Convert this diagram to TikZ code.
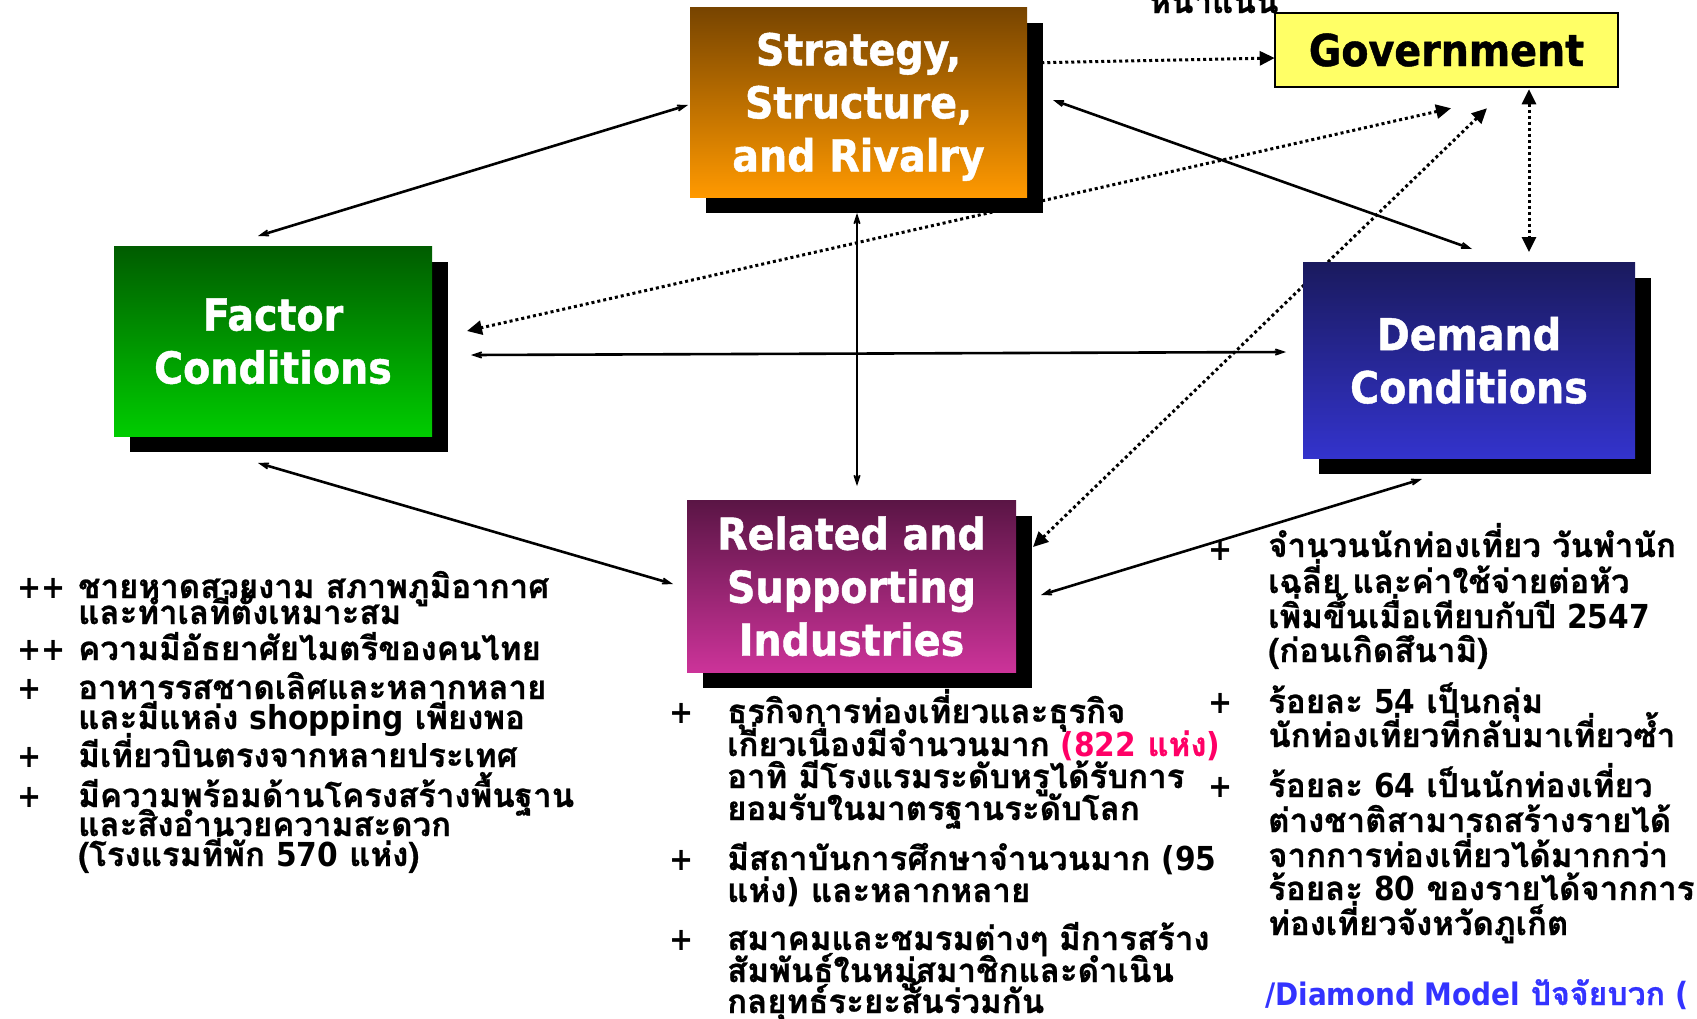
\documentclass[tikz,border=0pt]{standalone}
\usepackage{fontspec}
\usetikzlibrary{arrows.meta,shadows,calc,backgrounds}
\newfontfamily\thai[Script=Thai,BoldFeatures={FakeBold=0.8}]{Loma}
\newfontfamily\lat{DejaVu Sans Condensed}
\newfontfamily\ttl[BoldFeatures={FakeBold=1}]{DejaVu Sans Condensed}
\newcommand\lt[1]{{\lat #1}}
\definecolor{sTop}{HTML}{774400}
\definecolor{sBot}{HTML}{FF9900}
\definecolor{fTop}{HTML}{005C00}
\definecolor{fBot}{HTML}{00CC00}
\definecolor{dTop}{HTML}{1A1A5E}
\definecolor{dBot}{HTML}{3333CC}
\definecolor{rTop}{HTML}{5A1545}
\definecolor{rBot}{HTML}{CC3399}
\definecolor{govy}{HTML}{FFFF66}
\definecolor{pinkt}{HTML}{FF0066}
\definecolor{bluet}{HTML}{3333FF}
\begin{document}
\begin{tikzpicture}[x=1pt,y=-1pt,
  box/.style={shade, inner sep=0pt, outer sep=0pt, text=white, align=center, text depth=0pt,
    font=\ttl\bfseries\fontsize{44}{53}\selectfont,
    drop shadow={shadow xshift=16pt,shadow yshift=-16pt,fill=black,opacity=1}},
  solidarrow/.style={line width=2.6pt,
    {Stealth[length=25pt,width=17pt,inset=18pt]}-{Stealth[length=25pt,width=17pt,inset=18pt]}},
  dotarrow/.style={line width=3pt, dash pattern=on 3pt off 3pt,
    {Triangle[length=15pt,width=14pt]}-{Triangle[length=15pt,width=14pt]}},
  tl/.style={anchor=base west, inner sep=0pt, font=\thai\bfseries\fontsize{33}{36}\selectfont},
  pl/.style={anchor=base west, inner sep=0pt, font=\lat\bfseries\fontsize{32}{36}\selectfont},
]
\useasboundingbox (0,0) rectangle (1697,1018);

% boxes
\node[box, top color=sTop, bottom color=sBot, minimum width=337pt, minimum height=190pt] (S) at (858.5,102) {Strategy,\\Structure,\\and Rivalry};
\node[box, top color=fTop, bottom color=fBot, minimum width=318pt, minimum height=190pt] (F) at (273,341) {Factor\\Conditions};
\node[box, top color=dTop, bottom color=dBot, minimum width=332pt, minimum height=196pt] (D) at (1469,360) {Demand\\Conditions};
\node[box, top color=rTop, bottom color=rBot, minimum width=329pt, minimum height=172pt] (R) at (851.5,586) {Related and\\Supporting\\Industries};
\node[draw=black, line width=2.5pt, fill=govy, inner sep=0pt, minimum width=343pt, minimum height=74pt,
  font=\ttl\bfseries\fontsize{44}{53}\selectfont] (G) at (1446.5,50) {Government};

\node[tl] (top) at (1149,13) {หน้าแน่น};

\begin{pgfonlayer}{background}
\fill[white] (0,0) rectangle (1697,1018);
\draw[solidarrow] ($(S.west)+(-2,3)$) -- ($(F.north)+(-15,-10)$);
\draw[solidarrow] ($(F.south)+(-15,27)$) -- ($(R.west)+(-14,-2)$);
\draw[solidarrow] ($(F.east)+(39,14)$) -- ($(D.west)+(-17,-8)$);
\draw[solidarrow] ($(S.south)+(-1.5,16)$) -- ($(R.north)+(5.5,-14)$);
\draw[solidarrow] ($(S.east)+(26,-2)$) -- ($(D.north)+(3,-13)$);
\draw[solidarrow] ($(R.east)+(25,9)$) -- ($(D.south)+(-47,21)$);
\draw[dotarrow] ($(S.east)+(0,-39)$) -- ($(G.west)+(1,8)$);
\draw[dotarrow] ($(G.south)+(4.5,20)$) -- ($(F.east)+(35,-10)$);
\draw[dotarrow] ($(G.south)+(40.5,20)$) -- ($(R.north east)+(17,47)$);
\draw[dotarrow] ($(G.south)+(82.5,1)$) -- ($(D.north)+(60,-10)$);
\end{pgfonlayer}

% left block
\node[pl] (pl1) at (17,598) {++};
\node[tl] (l1) at (78,598) {ชายหาดสวยงาม สภาพภูมิอากาศ};
\node[tl] (l2) at (78,624) {และทำเลที่ตั้งเหมาะสม};
\node[pl] (pl3) at (17,660) {++};
\node[tl] (l3) at (78,660) {ความมีอัธยาศัยไมตรีของคนไทย};
\node[pl] (pl4) at (17,699) {+};
\node[tl] (l4) at (78,699) {อาหารรสชาดเลิศและหลากหลาย};
\node[tl] (l5) at (78,729) {และมีแหล่ง \lt{shopping} เพียงพอ};
\node[pl] (pl6) at (17,767) {+};
\node[tl] (l6) at (78,767) {มีเที่ยวบินตรงจากหลายประเทศ};
\node[pl] (pl7) at (17,807) {+};
\node[tl] (l7) at (78,807) {มีความพร้อมด้านโครงสร้างพื้นฐาน};
\node[tl] (l8) at (78,836) {และสิ่งอำนวยความสะดวก};
\node[tl] (l9) at (78,866) {(โรงแรมที่พัก \lt{570} แห่ง)};

% middle block
\node[pl] (pm1) at (669,723) {+};
\node[tl] (m1) at (727,723) {ธุรกิจการท่องเที่ยวและธุรกิจ};
\node[tl] (m2) at (727,756) {เกี่ยวเนื่องมีจำนวนมาก \textcolor{pinkt}{\lt{(822} แห่ง\lt{)}}};
\node[tl] (m3) at (727,788) {อาทิ มีโรงแรมระดับหรูได้รับการ};
\node[tl] (m4) at (727,820) {ยอมรับในมาตรฐานระดับโลก};
\node[pl] (pm5) at (669,870) {+};
\node[tl] (m5) at (727,870) {มีสถาบันการศึกษาจำนวนมาก \lt{(95}};
\node[tl] (m6) at (727,902) {แห่ง\lt{)} และหลากหลาย};
\node[pl] (pm7) at (669,950) {+};
\node[tl] (m7) at (727,950) {สมาคมและชมรมต่างๆ มีการสร้าง};
\node[tl] (m8) at (727,982) {สัมพันธ์ในหมู่สมาชิกและดำเนิน};
\node[tl] (m9) at (727,1013) {กลยุทธ์ระยะสั้นร่วมกัน};

% right block
\node[pl] (pr1) at (1208,560) {+};
\node[tl] (r1) at (1268,557) {จำนวนนักท่องเที่ยว วันพำนัก};
\node[tl] (r2) at (1268,593) {เฉลี่ย และค่าใช้จ่ายต่อหัว};
\node[tl] (r3) at (1268,628) {เพิ่มขึ้นเมื่อเทียบกับปี \lt{2547}};
\node[tl] (r4) at (1268,662) {(ก่อนเกิดสึนามิ)};
\node[pl] (pr5) at (1208,713) {+};
\node[tl] (r5) at (1268,713) {ร้อยละ \lt{54} เป็นกลุ่ม};
\node[tl] (r6) at (1268,747) {นักท่องเที่ยวที่กลับมาเที่ยวซ้ำ};
\node[pl] (pr7) at (1208,797) {+};
\node[tl] (r7) at (1268,797) {ร้อยละ \lt{64} เป็นนักท่องเที่ยว};
\node[tl] (r8) at (1268,832) {ต่างชาติสามารถสร้างรายได้};
\node[tl] (r9) at (1268,867) {จากการท่องเที่ยวได้มากกว่า};
\node[tl] (r10) at (1268,900) {ร้อยละ \lt{80} ของรายได้จากการ};
\node[tl] (r11) at (1268,935) {ท่องเที่ยวจังหวัดภูเก็ต};
\node[tl, text=bluet, font=\thai\bfseries\fontsize{32}{36}\selectfont] (r12) at (1265,1005) {{\lat\fontsize{31}{36}\selectfont /Diamond Model} ปัจจัยบวก \lt{(}};
\end{tikzpicture}
\end{document}
